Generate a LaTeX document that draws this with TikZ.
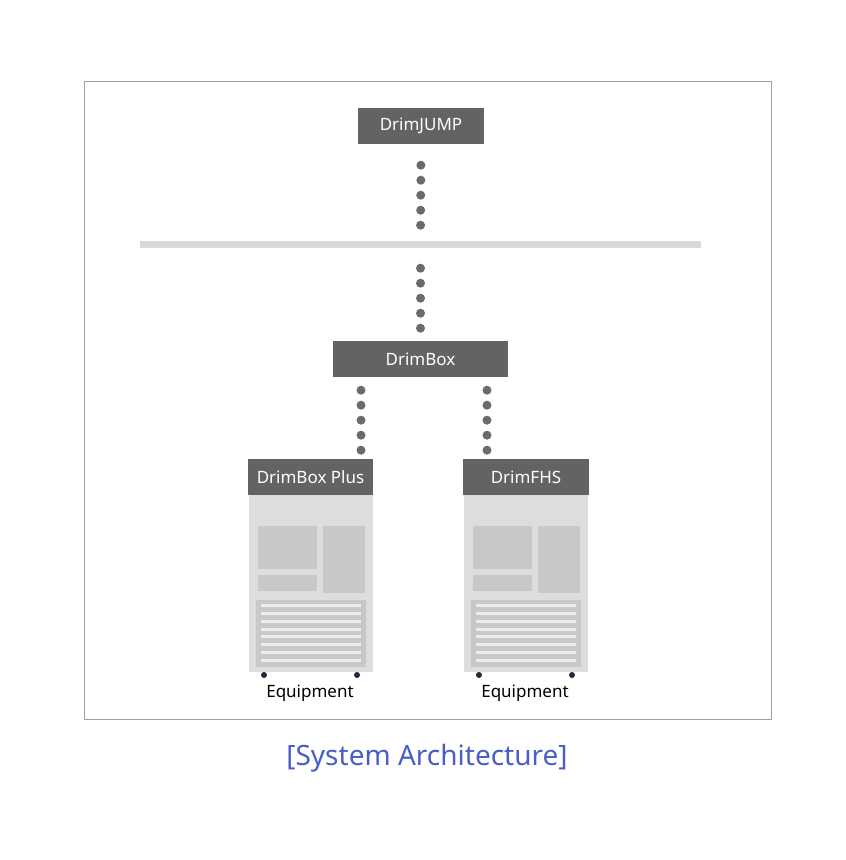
\documentclass[tikz,border=0pt]{standalone}
\usepackage{fontspec}
\setmainfont{Noto Sans}
\usetikzlibrary{positioning}
\definecolor{hdrgray}{HTML}{636363}
\definecolor{bodygray}{HTML}{DCDDDC}
\definecolor{panelgray}{HTML}{C8C8C8}
\definecolor{ventgray}{HTML}{EDEDED}
\definecolor{bargray}{HTML}{D9D9D9}
\definecolor{framegray}{HTML}{A0A0A0}
\definecolor{dotgray}{HTML}{6B6B6B}
\definecolor{footblue}{HTML}{1C2B3A}
\definecolor{capblue}{HTML}{4A5FC4}
\tikzset{
  hdr/.style={fill=hdrgray, text=white, inner sep=0pt, minimum height=36pt, font=\fontsize{17}{19}\selectfont},
  dots/.style={dotgray, line width=9pt, line cap=round, dash pattern=on 0pt off 15pt},
}
\begin{document}
\begin{tikzpicture}[x=1pt,y=-1pt]
      \useasboundingbox (0,0) rectangle (846,860);
      \draw[framegray, line width=0.8pt] (84,81) rectangle (771,719);
      \node[hdr, minimum width=126pt] (jump) at (421,126) {DrimJUMP};
      \node[fill=bargray, inner sep=0pt, minimum width=561pt, minimum height=7pt] (bar) at (420.5,244.5) {};
      \node[hdr, minimum width=175pt] (dbox) at (420.5,359) {DrimBox};
      \node[hdr, minimum width=125pt] (plus) at (310.5,477) {DrimBox Plus};
      \node[hdr, minimum width=126pt] (fhs) at (526,477) {DrimFHS};
      \draw[dots, shorten <=21pt, shorten >=15pt] (jump.south) -- (bar.north);
      \draw[dots, shorten <=20pt, shorten >=12pt] (bar.south) -- (dbox.north);
      \draw[dots, shorten <=13pt, shorten >=8pt] ([xshift=-59.5pt]dbox.south) -- ([xshift=50.5pt]plus.north);
      \draw[dots, shorten <=13pt, shorten >=8pt] ([xshift=66.5pt]dbox.south) -- ([xshift=-39pt]fhs.north);
      % equipment cabinets
      \foreach \dx/\name in {0/plus, 215/fhs} {
        \begin{scope}[shift={(\dx,0)}]
          \fill[bodygray] (249,495) rectangle (373,672);
          \fill[panelgray] (258,526) rectangle (317,569);
          \fill[panelgray] (323,526) rectangle (365,593);
          \fill[panelgray] (258,575) rectangle (317,591);
          \fill[panelgray] (256,600) rectangle (366,667);
          \foreach \y in {605,613,621,629,636,644,652,660}
            \fill[ventgray] (261,\y-1.5) rectangle (361,\y+1.5);
          \fill[footblue] (264,675) circle (3);
          \fill[footblue] (357,675) circle (3);
          \node[font=\fontsize{17}{19}\selectfont] (\name eq) at (310,693) {Equipment};
        \end{scope}
      }
      \node[text=capblue, font=\fontsize{28}{32}\selectfont] (caption) at (427,758) {[System Architecture]};
    \end{tikzpicture}
\end{document}
